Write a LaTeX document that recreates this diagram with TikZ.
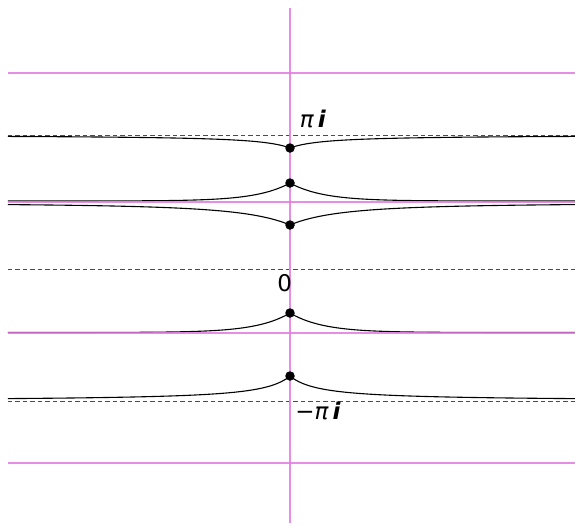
\documentclass[tikz,border=0pt]{standalone}
\usepackage{fontspec}
\setmainfont{DejaVu Sans}
\usepackage{xcolor}
\usepackage{tikz}
\usetikzlibrary{positioning}

\definecolor{cutline}{RGB}{226,122,226}

\begin{document}
\begin{tikzpicture}[x=1pt,y=1pt]
    \useasboundingbox (-290,-259) rectangle (285,269);
    \tikzset{
        level/.style={gray!60!black,line width=1pt,dash pattern=on 4.5pt off 3pt},
        cut/.style={cutline,line width=1.8pt,opacity=0.85},
        orbit/.style={black,line width=1.1pt},
        pt/.style={circle,fill=black,inner sep=0pt,minimum size=9.5pt},
        lab/.style={font=\fontsize{23}{27}\selectfont,inner sep=0pt}
    }
    \foreach \y in {134,0,-132} {
        \draw[level] (-282,\y) -- (285,\y);
    }

    \draw[orbit] plot[domain=-282:285,samples=568,smooth] (\x,{134-13/(1+abs(\x)/35)});
    \draw[orbit] plot[domain=-282:285,samples=568,smooth] (\x,{68+18*exp(-abs(\x)/33)});
    \draw[orbit] plot[domain=-282:285,samples=568,smooth] (\x,{66-22/(1+abs(\x)/104)^2});
    \draw[orbit] plot[domain=-282:285,samples=568,smooth] (\x,{-63.5+19.5*exp(-abs(\x)/33)});
    \draw[orbit] plot[domain=-282:285,samples=568,smooth] (\x,{-132+25/(1+abs(\x)/30)});

    \foreach \y in {196,67,-64,-194} {
        \draw[cut] (-282,\y) -- (285,\y);
    }
    \draw[cut] (0,261) -- (0,-254);

    \node[pt] (p1) at (0,121) {};
    \node[pt] (p2) at (0,86) {};
    \node[pt] (p3) at (0,44) {};
    \node[pt] (p4) at (0,-44) {};
    \node[pt] (p5) at (0,-107) {};

    \node[lab] (pii) at (23,150) {\textit{π}\,\textbf{\textit{i}}};
    \node[lab] (zero) at (-5.3,-14) {0};
    \node[lab] (mpii) at (28,-142) {−\textit{π}\,\textbf{\textit{i}}};
\end{tikzpicture}
\end{document}
